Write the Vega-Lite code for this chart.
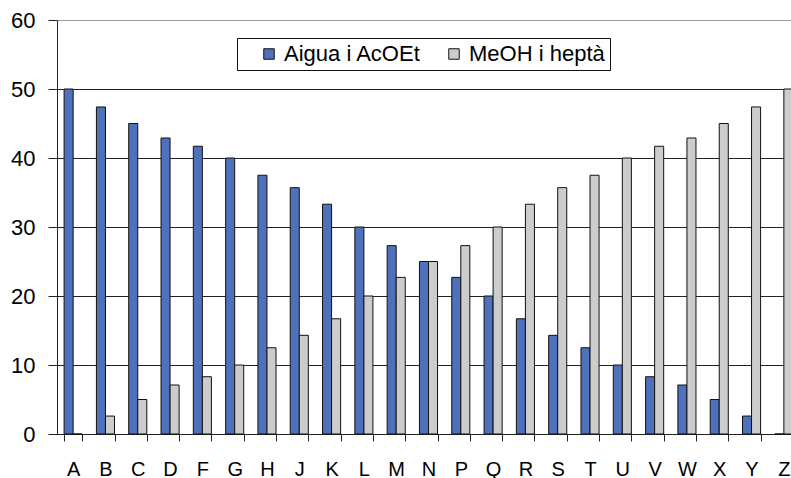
{
  "$schema": "https://vega.github.io/schema/vega-lite/v6.json",
  "autosize": {"type": "none"},
  "width": 743,
  "height": 414,
  "padding": {"left": 57, "top": 20, "right": 0, "bottom": 44},
  "background": "white",
  "config": {
    "font": "Liberation Sans",
    "view": {"stroke": "#999999", "strokeWidth": 1}
  },
  "data": {
    "values": [
      {"lletra": "A", "serie": "Aigua i AcOEt", "valor": 50},
      {"lletra": "B", "serie": "Aigua i AcOEt", "valor": 47.4},
      {"lletra": "C", "serie": "Aigua i AcOEt", "valor": 45},
      {"lletra": "D", "serie": "Aigua i AcOEt", "valor": 42.9},
      {"lletra": "F", "serie": "Aigua i AcOEt", "valor": 41.7},
      {"lletra": "G", "serie": "Aigua i AcOEt", "valor": 40},
      {"lletra": "H", "serie": "Aigua i AcOEt", "valor": 37.5},
      {"lletra": "J", "serie": "Aigua i AcOEt", "valor": 35.7},
      {"lletra": "K", "serie": "Aigua i AcOEt", "valor": 33.3},
      {"lletra": "L", "serie": "Aigua i AcOEt", "valor": 30},
      {"lletra": "M", "serie": "Aigua i AcOEt", "valor": 27.3},
      {"lletra": "N", "serie": "Aigua i AcOEt", "valor": 25},
      {"lletra": "P", "serie": "Aigua i AcOEt", "valor": 22.7},
      {"lletra": "Q", "serie": "Aigua i AcOEt", "valor": 20},
      {"lletra": "R", "serie": "Aigua i AcOEt", "valor": 16.7},
      {"lletra": "S", "serie": "Aigua i AcOEt", "valor": 14.3},
      {"lletra": "T", "serie": "Aigua i AcOEt", "valor": 12.5},
      {"lletra": "U", "serie": "Aigua i AcOEt", "valor": 10},
      {"lletra": "V", "serie": "Aigua i AcOEt", "valor": 8.3},
      {"lletra": "W", "serie": "Aigua i AcOEt", "valor": 7.1},
      {"lletra": "X", "serie": "Aigua i AcOEt", "valor": 5},
      {"lletra": "Y", "serie": "Aigua i AcOEt", "valor": 2.6},
      {"lletra": "Z", "serie": "Aigua i AcOEt", "valor": 0},
      {"lletra": "A", "serie": "MeOH i heptà", "valor": 0},
      {"lletra": "B", "serie": "MeOH i heptà", "valor": 2.6},
      {"lletra": "C", "serie": "MeOH i heptà", "valor": 5},
      {"lletra": "D", "serie": "MeOH i heptà", "valor": 7.1},
      {"lletra": "F", "serie": "MeOH i heptà", "valor": 8.3},
      {"lletra": "G", "serie": "MeOH i heptà", "valor": 10},
      {"lletra": "H", "serie": "MeOH i heptà", "valor": 12.5},
      {"lletra": "J", "serie": "MeOH i heptà", "valor": 14.3},
      {"lletra": "K", "serie": "MeOH i heptà", "valor": 16.7},
      {"lletra": "L", "serie": "MeOH i heptà", "valor": 20},
      {"lletra": "M", "serie": "MeOH i heptà", "valor": 22.7},
      {"lletra": "N", "serie": "MeOH i heptà", "valor": 25},
      {"lletra": "P", "serie": "MeOH i heptà", "valor": 27.3},
      {"lletra": "Q", "serie": "MeOH i heptà", "valor": 30},
      {"lletra": "R", "serie": "MeOH i heptà", "valor": 33.3},
      {"lletra": "S", "serie": "MeOH i heptà", "valor": 35.7},
      {"lletra": "T", "serie": "MeOH i heptà", "valor": 37.5},
      {"lletra": "U", "serie": "MeOH i heptà", "valor": 40},
      {"lletra": "V", "serie": "MeOH i heptà", "valor": 41.7},
      {"lletra": "W", "serie": "MeOH i heptà", "valor": 42.9},
      {"lletra": "X", "serie": "MeOH i heptà", "valor": 45},
      {"lletra": "Y", "serie": "MeOH i heptà", "valor": 47.4},
      {"lletra": "Z", "serie": "MeOH i heptà", "valor": 50}
    ]
  },
  "mark": {"type": "bar", "stroke": "#111111", "strokeWidth": 1},
  "encoding": {
    "x": {
      "field": "lletra",
      "type": "nominal",
      "sort": null,
      "title": null,
      "scale": {"paddingInner": 0.44, "paddingOuter": 0.22},
      "axis": {
        "labelAngle": 0,
        "labelFontSize": 20,
        "labelColor": "#000000",
        "labelPadding": 18,
        "tickBand": "extent",
        "tickSize": 7,
        "tickColor": "#222222",
        "domainColor": "#222222",
        "grid": false
      }
    },
    "xOffset": {"field": "serie", "type": "nominal"},
    "y": {
      "field": "valor",
      "type": "quantitative",
      "title": null,
      "scale": {"domain": [0, 60], "nice": false},
      "axis": {
        "values": [0, 10, 20, 30, 40, 50, 60],
        "labelFontSize": 22,
        "labelColor": "#000000",
        "labelPadding": 13,
        "tickSize": 9,
        "tickColor": "#222222",
        "domainColor": "#222222",
        "grid": true,
        "gridColor": "#222222",
        "gridOpacity": {"condition": {"test": "datum.value === 60", "value": 0}, "value": 1}
      }
    },
    "color": {
      "field": "serie",
      "type": "nominal",
      "title": " ",
      "scale": {"domain": ["Aigua i AcOEt", "MeOH i heptà"], "range": ["#4F71BC", "#CCCCCC"]},
      "legend": {
        "orient": "none",
        "legendX": 180,
        "legendY": 18,
        "direction": "horizontal",
        "titleOrient": "left",
        "titleFontSize": 1,
        "titlePadding": 16,
        "symbolType": "square",
        "symbolSize": 110,
        "symbolStrokeColor": "#111111",
        "symbolStrokeWidth": 1,
        "symbolOpacity": 1,
        "labelFontSize": 22,
        "labelColor": "#000000",
        "labelOffset": 4,
        "columnPadding": 22,
        "strokeColor": "#111111",
        "padding": 5,
        "fillColor": "white"
      }
    }
  }
}
